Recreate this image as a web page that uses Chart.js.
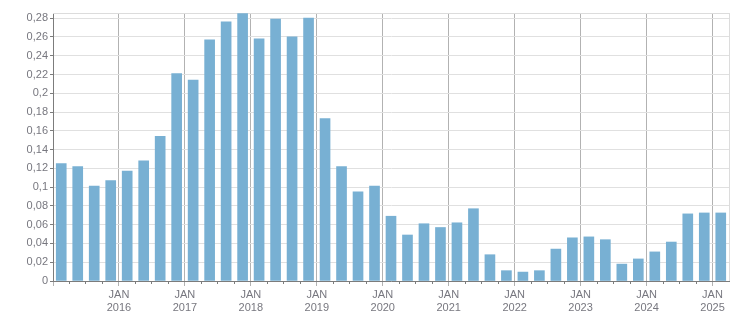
<!DOCTYPE html>
<html>
<head>
<meta charset="utf-8">
<script src="https://cdn.jsdelivr.net/npm/chart.js@4/dist/chart.umd.min.js"></script>
<style>
  html, body { margin: 0; padding: 0; background: #fff; }
  #wrap { width: 751px; height: 313px; }
</style>
</head>
<body>
<div id="wrap"><canvas id="chart"></canvas></div>
<script>
// quarterly values, 2015 Q1 .. 2025 Q1
const quarters = [
  '2015 Q1', '2015 Q2', '2015 Q3', '2015 Q4',
  '2016 Q1', '2016 Q2', '2016 Q3', '2016 Q4',
  '2017 Q1', '2017 Q2', '2017 Q3', '2017 Q4',
  '2018 Q1', '2018 Q2', '2018 Q3', '2018 Q4',
  '2019 Q1', '2019 Q2', '2019 Q3', '2019 Q4',
  '2020 Q1', '2020 Q2', '2020 Q3', '2020 Q4',
  '2021 Q1', '2021 Q2', '2021 Q3', '2021 Q4',
  '2022 Q1', '2022 Q2', '2022 Q3', '2022 Q4',
  '2023 Q1', '2023 Q2', '2023 Q3', '2023 Q4',
  '2024 Q1', '2024 Q2', '2024 Q3', '2024 Q4',
  '2025 Q1'
];
const values = [
  0.125, 0.122, 0.101, 0.107,
  0.117, 0.128, 0.154, 0.221,
  0.214, 0.257, 0.276, 0.285,
  0.258, 0.279, 0.260, 0.280,
  0.173, 0.122, 0.095, 0.101,
  0.069, 0.049, 0.061, 0.057,
  0.062, 0.077, 0.028, 0.011,
  0.0095, 0.011, 0.034, 0.046,
  0.047, 0.044, 0.018, 0.0235,
  0.031, 0.0415, 0.0715, 0.0725,
  0.0725
];
const yearLabels = ['2016', '2017', '2018', '2019', '2020', '2021', '2022', '2023', '2024', '2025'];
const firstYear = 2015;

const yMax = 0.2855;
const textColor = '#77777f';
const none = 'rgba(0,0,0,0)';

const points = values.map((v, i) => ({ x: i + 0.5, y: v }));

function tv(c) {
  return c && c.tick ? c.tick.value : null;
}

// light frame line along the top of the plot
const topLine = {
  id: 'topLine',
  beforeDatasetsDraw(chart) {
    const a = chart.chartArea, ctx = chart.ctx;
    ctx.save();
    ctx.strokeStyle = '#dcdcdc';
    ctx.lineWidth = 1;
    ctx.beginPath();
    ctx.moveTo(a.left, a.top + 0.5);
    ctx.lineTo(a.right, a.top + 0.5);
    ctx.stroke();
    ctx.restore();
  }
};

new Chart('chart', {
  type: 'bar',
  data: {
    datasets: [{
      data: points,
      backgroundColor: '#78b0d3',
      barThickness: 10
    }]
  },
  options: {
    responsive: true,
    maintainAspectRatio: false,
    animation: false,
    layout: { padding: { left: 0, right: 22, top: 13, bottom: 0 } },
    plugins: {
      legend: { display: false },
      tooltip: { enabled: false }
    },
    scales: {
      x: {
        type: 'linear',
        offset: false,
        min: 0,
        max: quarters.length,
        afterFit: s => { s.height = 32; },
        border: { color: '#7c7c7c' },
        grid: {
          offset: false,
          color: c => {
            const v = tv(c);
            if (v === quarters.length) return '#dcdcdc';
            return v !== null && v % 4 === 0 && v > 0 ? '#b2b2b2' : none;
          },
          tickColor: c => {
            const v = tv(c);
            if (v === quarters.length) return none;
            return v !== null && v % 4 === 0 ? '#b2b2b2' : '#7c7c7c';
          },
          tickLength: 5,
          tickBorderDash: c => {
            const v = tv(c);
            return v !== null && v % 4 === 0 ? [] : [2, 10];
          }
        },
        ticks: {
          stepSize: 1,
          autoSkip: false,
          maxRotation: 0,
          padding: 2,
          color: textColor,
          font: { family: 'Liberation Sans', size: 11 },
          callback: v => {
            if (v % 4 !== 0 || v === 0) return '';
            const yr = String(firstYear + v / 4);
            return yearLabels.includes(yr) ? ['JAN', yr] : '';
          }
        }
      },
      y: {
        min: 0,
        max: yMax,
        afterFit: s => { s.width = 53; },
        border: { color: '#7c7c7c' },
        grid: {
          color: '#e0e0e0',
          tickColor: '#7c7c7c',
          tickLength: 3
        },
        ticks: {
          stepSize: 0.02,
          includeBounds: false,
          padding: 2,
          color: textColor,
          font: { family: 'Liberation Sans', size: 11 },
          callback: v => {
            const r = Math.round(v * 100) / 100;
            return String(r).replace('.', ',');
          }
        }
      }
    }
  },
  plugins: [topLine]
});
</script>
</body>
</html>
